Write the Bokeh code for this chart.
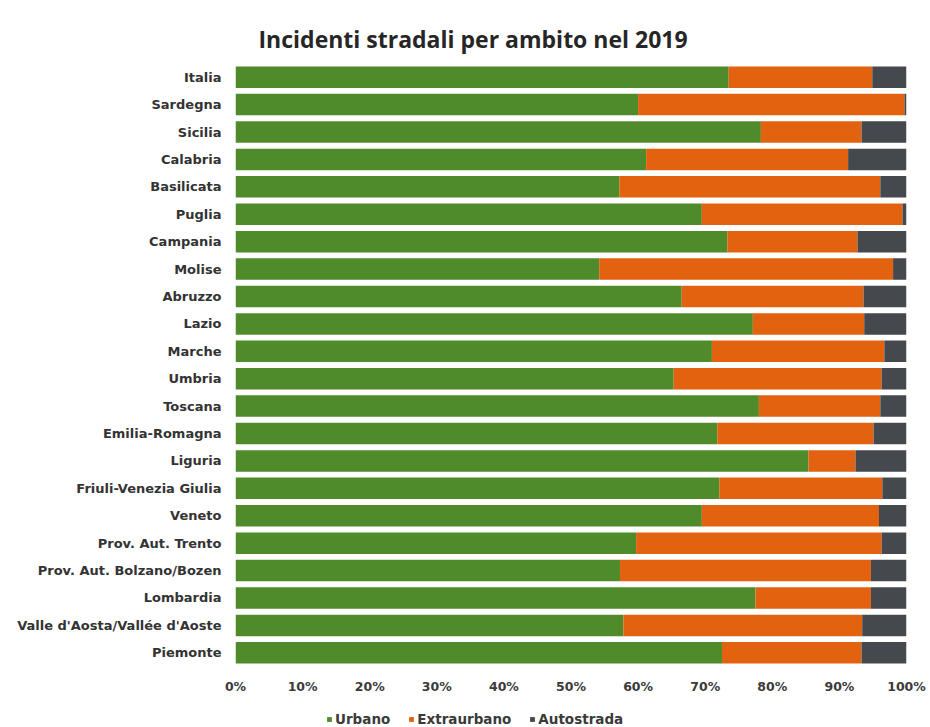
from bokeh.plotting import figure
from bokeh.layouts import column
from bokeh.models import ColumnDataSource, FactorRange, Range1d, Legend, LegendItem, FixedTicker, PrintfTickFormatter
from bokeh.embed import file_html
from bokeh.resources import INLINE

regions = ["Italia", "Sardegna", "Sicilia", "Calabria", "Basilicata", "Puglia", "Campania",
           "Molise", "Abruzzo", "Lazio", "Marche", "Umbria", "Toscana", "Emilia-Romagna",
           "Liguria", "Friuli-Venezia Giulia", "Veneto", "Prov. Aut. Trento",
           "Prov. Aut. Bolzano/Bozen", "Lombardia", "Valle d'Aosta/Vallée d'Aoste", "Piemonte"]
urbano = [73.5, 60.0, 78.3, 61.2, 57.2, 69.5, 73.3, 54.2, 66.5, 77.1, 71.0,
          65.3, 78.0, 71.8, 85.4, 72.1, 69.5, 59.7, 57.3, 77.5, 57.8, 72.5]
extraurbano = [21.4, 39.7, 15.0, 30.1, 38.9, 29.9, 19.4, 43.8, 27.1, 16.6, 25.7,
               31.0, 18.1, 23.3, 7.0, 24.3, 26.4, 36.6, 37.4, 17.2, 35.6, 20.8]
autostrada = [5.1, 0.3, 6.7, 8.7, 3.9, 0.6, 7.3, 2.0, 6.4, 6.3, 3.3,
              3.7, 3.9, 4.9, 7.6, 3.6, 4.1, 3.7, 5.3, 5.3, 6.6, 6.7]
series = ["Urbano", "Extraurbano", "Autostrada"]
x_ticks = [0, 10, 20, 30, 40, 50, 60, 70, 80, 90, 100]
colors = ["#4f8a2b", "#e3620f", "#45484c"]

source = ColumnDataSource(dict(region=regions, Urbano=urbano,
                               Extraurbano=extraurbano, Autostrada=autostrada))

p = figure(width=930, height=703, output_backend="svg", toolbar_location=None,
           y_range=FactorRange(factors=list(reversed(regions)), range_padding=0),
           x_range=Range1d(0, 100),
           min_border_left=235, min_border_right=24, min_border_top=63, min_border_bottom=37,
           title="Incidenti stradali per ambito nel 2019")

p.hbar_stack(series, y="region", height=0.785, color=colors, source=source, line_color=None)

p.title.text_font = "Open Sans"
p.title.text_font_style = "bold"
p.title.text_font_size = "23px"
p.title.text_color = "#262626"
p.title.align = "left"
p.title.vertical_align = "top"
p.title.offset = 23
p.title.standoff = 13

p.xgrid.visible = False
p.ygrid.visible = False
p.outline_line_color = None

p.xaxis.ticker = FixedTicker(ticks=x_ticks)
p.xaxis.formatter = PrintfTickFormatter(format="%d%%")
p.xaxis.axis_line_color = None
p.xaxis.major_tick_line_color = None
p.xaxis.minor_tick_line_color = None
p.xaxis.major_label_text_font = "DejaVu Sans"
p.xaxis.major_label_text_font_style = "bold"
p.xaxis.major_label_text_font_size = "12.5px"
p.xaxis.major_label_text_color = "#3a3a3a"
p.xaxis.major_label_standoff = 6

p.yaxis.axis_line_color = None
p.yaxis.major_tick_line_color = None
p.yaxis.minor_tick_line_color = None
p.yaxis.major_label_text_font = "DejaVu Sans"
p.yaxis.major_label_text_font_style = "bold"
p.yaxis.major_label_text_font_size = "13px"
p.yaxis.major_label_text_color = "#333333"
p.yaxis.major_label_standoff = 8

# legend strip below the chart
pl = figure(width=930, height=24, output_backend="svg", toolbar_location=None,
            x_axis_location=None, y_axis_location=None,
            y_range=FactorRange(factors=list(reversed(regions))), x_range=Range1d(200, 300),
            min_border_left=0, min_border_right=0, min_border_top=0, min_border_bottom=0)
pl.outline_line_color = None
pl.xgrid.visible = False
pl.ygrid.visible = False
leg_renderers = pl.hbar_stack(series, y="region", height=0.74, color=colors, source=source,
                              line_color=None)
for r in leg_renderers:
    r.visible = False

legend = Legend(items=[LegendItem(label=s, renderers=[r]) for s, r in zip(series, leg_renderers)],
                orientation="horizontal", location=(91, 0),
                label_text_font="DejaVu Sans", label_text_font_style="bold",
                label_text_font_size="13.5px",
                label_text_color="#3a3a3a", label_height=14,
                glyph_width=6, glyph_height=6, label_standoff=3, spacing=18,
                padding=2, margin=0, border_line_color=None, background_fill_alpha=0)
pl.add_layout(legend, "center")

layout = column(p, pl, spacing=0)
open("out.html", "w").write(file_html(layout, INLINE))
